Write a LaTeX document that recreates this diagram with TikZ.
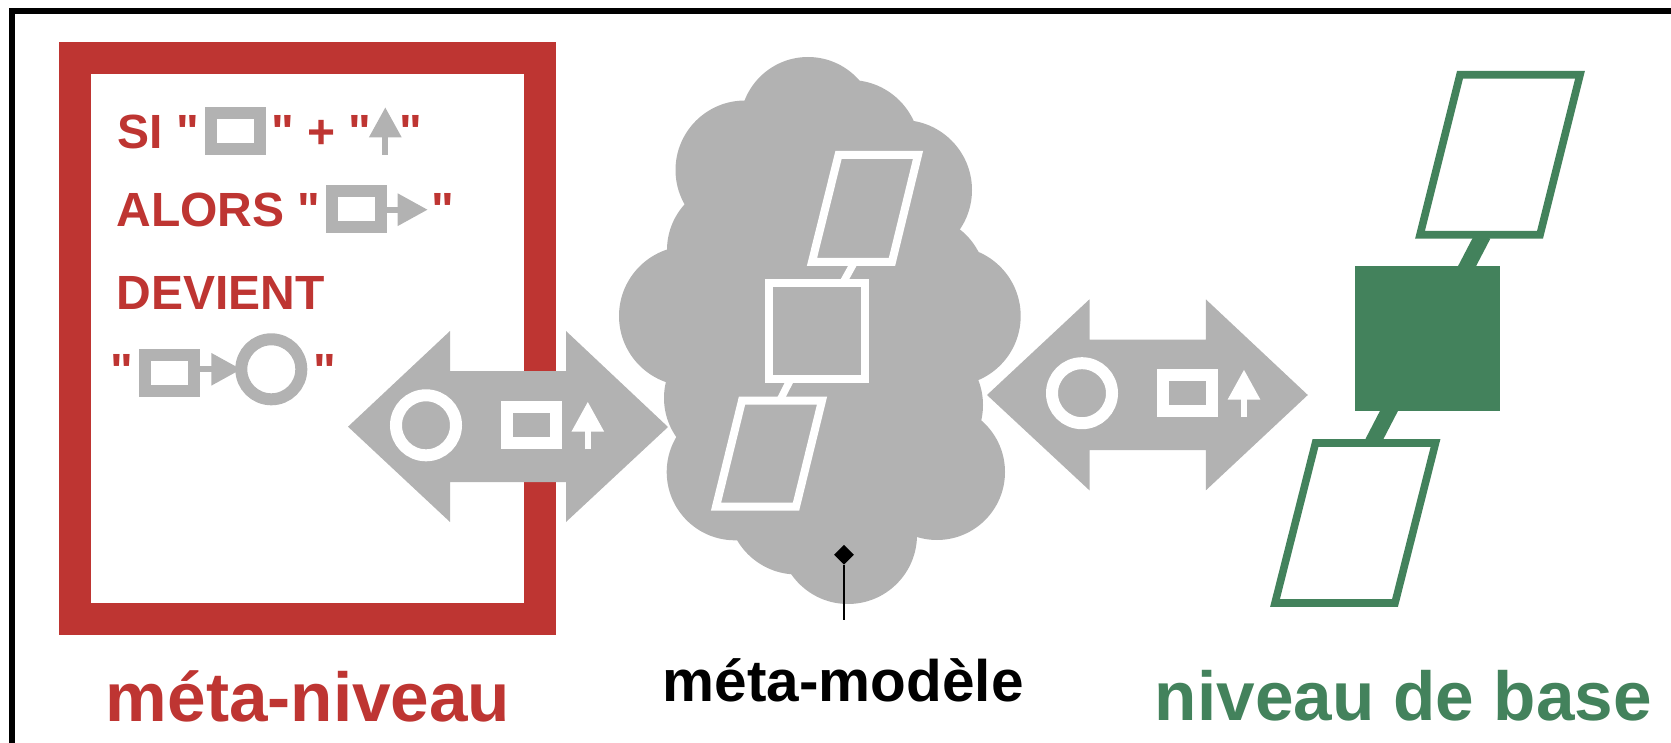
\documentclass[tikz,border=0pt]{standalone}
\usepackage{fontspec}
\setmainfont{Liberation Sans}[Ligatures=TeXOff]
\usepackage{tikz}
\usetikzlibrary{arrows.meta}
\usetikzlibrary{shapes.geometric}
\definecolor{metared}{RGB}{190,53,50}
\definecolor{basegreen}{RGB}{67,130,92}
\definecolor{icongray}{RGB}{178,178,178}
\tikzset{
	boxicon/.style={rectangle,draw,line width=6pt,inner sep=0pt,minimum width=24.5pt,minimum height=18pt},
	circicon/.style={circle,draw,line width=6pt,inner sep=0pt,minimum size=30pt},
	tinyarrow/.style={line width=3pt,-{Triangle[length=15pt,width=15.5pt]}},
	rule/.style={font=\fontsize{24}{28}\selectfont\bfseries,text=metared,anchor=base west,inner sep=0pt},
	title/.style={font=\fontsize{34.65}{40}\selectfont\bfseries,anchor=base west,inner sep=0pt}
}

\begin{document}
\begin{tikzpicture}[x=0.5pt,y=-0.5pt]
		\useasboundingbox (0,0) rectangle (1671,743);
		\draw[line width=3pt] (12,743) -- (12,11) -- (1671,11);

		% meta level frame
		\node[rectangle,draw=metared,line width=16pt,inner sep=0pt,minimum width=232.7pt,minimum height=280.7pt] (metaframe) at (307.3,338.3) {};

		% rule text
		\begin{scope}[every node/.style={rule}]
			\node (si) at (117,149) {SI "};
			\node (plus) at (271,149) {" + "};
			\node (siend) at (399.3,149) {"};
			\node (alors) at (116,227) {ALORS "};
			\node (alorsend) at (431,227) {"};
			\node (devient) at (116.5,309.6) {DEVIENT};
			\node (rowa) at (110.3,387) {"};
			\node (rowb) at (313.3,387) {"};
		\end{scope}

		% rule icons
		\begin{scope}[icongray,every node/.style={boxicon}]
			\node (boxa) at (235.5,130.7) {};
			\node (boxb) at (356.3,209.3) {};
			\node (boxc) at (169.7,373.3) {};
			\node[circicon] (circa) at (271.3,369.3) {};
			\coordinate (upa) at (385.3,154.7);
			\coordinate (upaend) at (385.3,107.3);
			\coordinate (tipb) at (427.7,209.7);
			\draw[tinyarrow] (upa) -- (upaend);
			\draw[tinyarrow] (boxb.east |- tipb) -- (tipb);
			\draw[tinyarrow] (boxc.east |- circa) -- ([xshift=3pt]circa.west);
		\end{scope}

		% left double arrow
		\fill[icongray] (348,426.7) -- (450,331) -- (450,371) -- (566,371) -- (566,331) -- (668,427)
			-- (566,522) -- (566,482) -- (450,482) -- (450,522) -- cycle;
		\begin{scope}[white,every node/.style={boxicon,minimum width=24.5pt}]
			\node[circicon] (circl) at (426,425.3) {};
			\node (boxl) at (531.7,425.2) {};
			\coordinate (upl) at (587.8,449.3);
			\coordinate (uplend) at (587.8,401.7);
			\draw[tinyarrow] (upl) -- (uplend);
		\end{scope}

		% cloud
		\fill[icongray] (745,170) -- (808,125) -- (850,150) -- (902,190) -- (918,283) -- (951,316) -- (915,405)
			-- (937,472) -- (848,535) -- (797,505) -- (735,472) -- (732,398) -- (689,316) -- (735,250) -- cycle;
		\foreach \x/\y/\r in {745/170/69.5,808/125/68,850/150/70,902/190/70,918/283/68,951/316/69.7,915/405/68,
			937/472/68,848/535/69,797/505/69.5,735/472/68.3,732/398/68,689/316/70,735/250/68}
			\fill[icongray] (\x,\y) circle (\r);

		% cloud contents
		\begin{scope}[white,line width=4pt]
			\coordinate (mua) at (854.3,262.3);
			\coordinate (mub) at (843,282.7);
			\coordinate (mla) at (790.8,379);
			\coordinate (mlb) at (780,400.2);
			\draw[line width=3.7pt] (mua) -- (mub);
			\draw[line width=3.7pt] (mla) -- (mlb);
			\draw (838.5,155) -- (918,155) -- (892,261.8) -- (812,261.8) -- cycle;
			\draw (742,400.7) -- (822,400.7) -- (796,506.7) -- (716,506.7) -- cycle;
			\node[rectangle,draw,inner sep=0pt,minimum size=47.85pt] (msquare) at (817.2,330.85) {};
		\end{scope}

		% pin
		\node[diamond,fill=black,inner sep=0pt,minimum width=10pt,minimum height=10pt] (pin) at (844,554.7) {};
		\coordinate (pinend) at (844,619.8);
		\draw[line width=1pt] (pin) -- (pinend);

		% right double arrow
		\fill[icongray] (987,395) -- (1089.5,299.3) -- (1089.5,339.6) -- (1205.8,339.6) -- (1205.8,299.3) -- (1307.8,395)
			-- (1205.8,490.4) -- (1205.8,450) -- (1089.5,450) -- (1089.5,490.4) -- cycle;
		\begin{scope}[white,every node/.style={boxicon}]
			\node[circicon] (circr) at (1082,393.2) {};
			\node (boxr) at (1187.7,393) {};
			\coordinate (upr) at (1244,417);
			\coordinate (uprend) at (1244,369.6);
			\draw[tinyarrow] (upr) -- (uprend);
		\end{scope}

		% base level
		\begin{scope}[basegreen,line width=3.8pt]
			\coordinate (bua) at (1483.2,235.1);
			\coordinate (bub) at (1465,270);
			\coordinate (bla) at (1391,407);
			\coordinate (blb) at (1372.6,442.5);
			\draw[line width=8pt] (bua) -- (bub);
			\draw[line width=8pt] (bla) -- (blb);
			\draw (1460,74.8) -- (1580,74.8) -- (1540,234.8) -- (1420,234.8) -- cycle;
			\draw (1315.5,443) -- (1435.5,443) -- (1395,603) -- (1275,603) -- cycle;
			\node[rectangle,fill,inner sep=0pt,minimum width=72.6pt,minimum height=72.5pt] (bsquare) at (1427.4,338.5) {};
		\end{scope}

		% titles
		\begin{scope}[every node/.style={title}]
			\node[text=metared] (metalevel) at (105.5,721) {méta-niveau};
			\node[font=\fontsize{29.25}{34}\selectfont\bfseries] (metamodel) at (662.5,701) {méta-modèle};
			\node[text=basegreen] (baselevel) at (1154.5,720.7) {niveau de base};
		\end{scope}
\end{tikzpicture}
\end{document}
